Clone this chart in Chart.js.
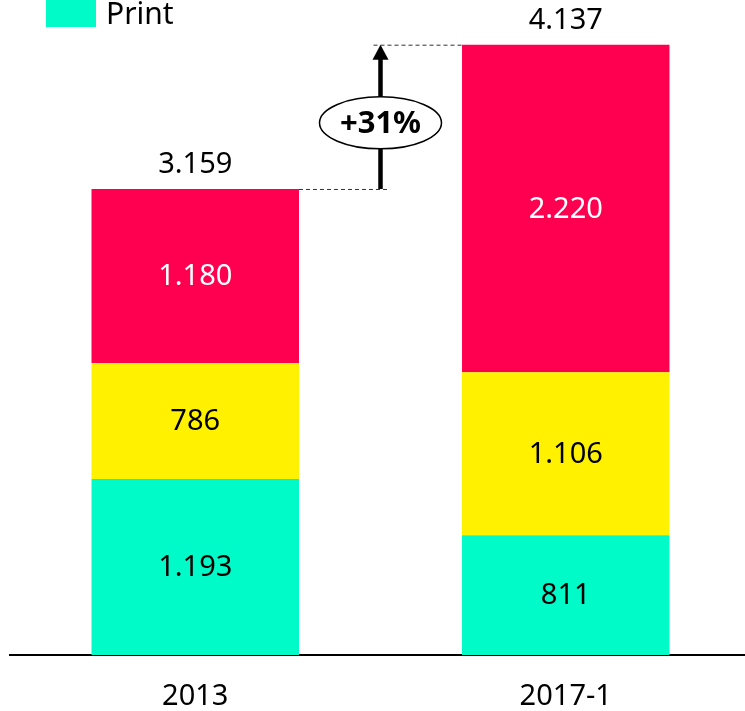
<!DOCTYPE html>
<html>
<head>
<meta charset="utf-8">
<script src="https://cdn.jsdelivr.net/npm/chart.js@4/dist/chart.umd.min.js"></script>
<style>
  html, body { margin: 0; padding: 0; background: #fff; overflow: hidden; }
  #wrap { width: 745px; height: 711px; overflow: hidden; }
</style>
</head>
<body>
<div id="wrap"><canvas id="chart" width="751" height="711"></canvas></div>
<script>
const categories = ["2013", "2017-1"];
const printValues = [1193, 811];
const middleValues = [786, 1106];
const topValues = [1180, 2220];
const totals = [3159, 4137];
const growthLabel = "+31%";

const FONT = '"Noto Sans", sans-serif';

function fmt(n) {
  return String(n).replace(/\B(?=(\d{3})+(?!\d))/g, ".");
}

// values inside bars + totals above
const labelPlugin = {
  id: "labels",
  afterDatasetsDraw(chart) {
    const ctx = chart.ctx;
    ctx.save();
    ctx.font = "29px " + FONT;
    ctx.textAlign = "center";
    ctx.textBaseline = "middle";
    chart.data.datasets.forEach((ds, i) => {
      const meta = chart.getDatasetMeta(i);
      meta.data.forEach((bar, j) => {
        ctx.fillStyle = ds.labelColor;
        ctx.fillText(fmt(ds.data[j]), bar.x, (bar.y + bar.base) / 2 + 1);
      });
    });
    const last = chart.getDatasetMeta(chart.data.datasets.length - 1);
    ctx.fillStyle = "#000";
    last.data.forEach((bar, j) => {
      ctx.fillText(fmt(totals[j]), bar.x, bar.y - 24);
    });
    ctx.restore();
  }
};

// growth arrow with dashed guides and ellipse
const growthPlugin = {
  id: "growth",
  afterDraw(chart) {
    const ctx = chart.ctx;
    const y = chart.scales.y;
    const x = chart.scales.x;
    const meta = chart.getDatasetMeta(0);
    const b0 = meta.data[0], b1 = meta.data[1];
    const y0 = y.getPixelForValue(totals[0]);
    const y1 = y.getPixelForValue(totals[1]);
    const ax = (x.getPixelForValue(0) + x.getPixelForValue(1)) / 2;
    ctx.save();
    ctx.strokeStyle = "#333";
    ctx.lineWidth = 1;
    ctx.setLineDash([4, 3]);
    ctx.beginPath();
    ctx.moveTo(b0.x + b0.width / 2, y0 + 0.5);
    ctx.lineTo(ax + 8, y0 + 0.5);
    ctx.moveTo(ax - 7, y1 + 0.5);
    ctx.lineTo(b1.x - b1.width / 2, y1 + 0.5);
    ctx.stroke();
    ctx.setLineDash([]);
    ctx.strokeStyle = "#000";
    ctx.lineWidth = 4.5;
    ctx.beginPath();
    ctx.moveTo(ax, y0);
    ctx.lineTo(ax, y1 + 14);
    ctx.stroke();
    ctx.fillStyle = "#000";
    ctx.beginPath();
    ctx.moveTo(ax, y1);
    ctx.lineTo(ax - 8, y1 + 15);
    ctx.lineTo(ax + 8, y1 + 15);
    ctx.closePath();
    ctx.fill();
    const cy = (y0 + y1) / 2 + 6;
    ctx.beginPath();
    ctx.ellipse(ax, cy, 61, 26, 0, 0, Math.PI * 2);
    ctx.fillStyle = "#fff";
    ctx.fill();
    ctx.lineWidth = 1.5;
    ctx.stroke();
    ctx.fillStyle = "#000";
    ctx.font = "bold 31px " + FONT;
    ctx.textAlign = "center";
    ctx.textBaseline = "middle";
    ctx.fillText(growthLabel, ax, cy + 1);
    // legend (only the Print entry is in view)
    ctx.fillStyle = "#00FAC8";
    ctx.fillRect(46, 0, 50, 27);
    ctx.fillStyle = "#000";
    ctx.textAlign = "left";
    ctx.textBaseline = "alphabetic";
    ctx.font = "30px " + FONT;
    ctx.fillText("Print", 106, 24);
    ctx.restore();
  }
};

new Chart(document.getElementById("chart"), {
  type: "bar",
  data: {
    labels: categories,
    datasets: [
      { label: "Print", data: printValues, backgroundColor: "#00FAC8", labelColor: "#000" },
      { label: "Online", data: middleValues, backgroundColor: "#FFF100", labelColor: "#000" },
      { label: "Mobile", data: topValues, backgroundColor: "#FF0050", labelColor: "#fff" }
    ]
  },
  options: {
    responsive: false,
    animation: false,
    layout: { padding: { left: 10, right: 0, top: 0, bottom: 0 } },
    datasets: { bar: { categoryPercentage: 1, barPercentage: 0.56, borderWidth: 0 } },
    plugins: { legend: { display: false }, tooltip: { enabled: false } },
    scales: {
      x: {
        stacked: true,
        grid: { display: false, drawTicks: false },
        border: { display: true, color: "#000", width: 2 },
        ticks: { color: "#000", font: { family: FONT, size: 29 }, padding: 24 },
        afterFit(scale) { scale.height = 56; }
      },
      y: {
        stacked: true,
        display: false,
        min: 0,
        max: 4440
      }
    }
  },
  plugins: [labelPlugin, growthPlugin]
});
</script>
</body>
</html>
